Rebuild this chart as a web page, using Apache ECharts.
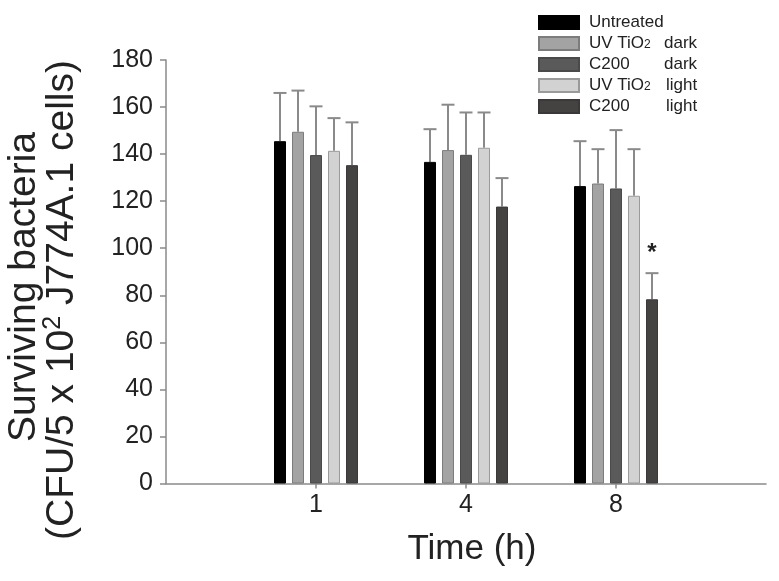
<!DOCTYPE html>
<html>
<head>
<meta charset="utf-8">
<script src="https://cdn.jsdelivr.net/npm/echarts@6/dist/echarts.min.js"></script>
<style>
html,body{margin:0;padding:0;background:#fff;}
#chart{width:779px;height:581px;}
</style>
</head>
<body>
<div id="chart"></div>
<script>
// ---- data ----
var categories = ['1', '4', '8'];
var seriesNames = ['Untreated', 'UV TiO2 dark', 'C200 dark', 'UV TiO2 light', 'C200 light'];
var untreated = [145.5, 136.7, 126.4];
var uvTiO2Dark = [149.5, 141.7, 127.5];
var c200Dark = [139.6, 139.7, 125.4];
var uvTiO2Light = [141.4, 142.7, 122.3];
var c200Light = [135.3, 117.7, 78.3];
var untreatedErr = [20.5, 13.9, 19.1];
var uvTiO2DarkErr = [17.5, 19.3, 14.6];
var c200DarkErr = [20.7, 18.0, 24.8];
var uvTiO2LightErr = [13.9, 15.0, 19.8];
var c200LightErr = [18.2, 12.1, 11.1];
var significance = ['', '', '*']; // for C200 light
var yTicks = [0, 20, 40, 60, 80, 100, 120, 140, 160, 180];

// ---- build ----
var values = [untreated, uvTiO2Dark, c200Dark, uvTiO2Light, c200Light];
var errors = [untreatedErr, uvTiO2DarkErr, c200DarkErr, uvTiO2LightErr, c200LightErr];
var fills = ['#000000', '#a3a3a3', '#5a5a5a', '#d2d2d2', '#454242'];
var borders = ['#000000', '#7c7c7c', '#4a4a4a', '#9a9a9a', '#3a3838'];
var xCats = [''].concat(categories).concat(['']);
var BAR_W = 12, GAP = 6;
var FONT = 'Liberation Sans, Arial, Helvetica, sans-serif';

function pad(arr) { return [null].concat(arr).concat([null]); }

var series = [];
values.forEach(function (vals, i) {
  series.push({
    name: seriesNames[i],
    type: 'bar',
    data: pad(vals),
    barWidth: BAR_W,
    barGap: (GAP / BAR_W * 100) + '%',
    itemStyle: { color: fills[i], borderColor: borders[i], borderWidth: 1 },
    emphasis: { disabled: true },
    z: 2
  });
});

// error bars (upward only) + significance marks
var errData = [];
values.forEach(function (vals, i) {
  vals.forEach(function (v, j) {
    errData.push([j + 1, v, v + errors[i][j], i, i === 4 ? significance[j] : '']);
  });
});
series.push({
  type: 'custom',
  name: 'err',
  data: errData,
  z: 1,
  silent: true,
  renderItem: function (params, api) {
    var ci = api.value(0), v = api.value(1), top = api.value(2), si = api.value(3);
    var mark = errData[params.dataIndex][4];
    var n = values.length;
    var off = (si - (n - 1) / 2) * (BAR_W + GAP);
    var p0 = api.coord([ci, v]);
    var p1 = api.coord([ci, top]);
    var x = p0[0] + off;
    var st = { stroke: '#8a8a8a', lineWidth: 2 };
    var children = [
      { type: 'line', shape: { x1: x, y1: p0[1], x2: x, y2: p1[1] }, style: st },
      { type: 'line', shape: { x1: x - 6.5, y1: p1[1], x2: x + 6.5, y2: p1[1] }, style: st }
    ];
    if (mark) {
      children.push({ type: 'text', style: { text: mark, x: x, y: p1[1] - 8, textAlign: 'center', textVerticalAlign: 'bottom', font: 'bold 24px ' + FONT, fill: '#222' } });
    }
    return { type: 'group', children: children };
  }
});

var legendFmt = {
  'Untreated': '{w|Untreated}',
  'UV TiO2 dark': '{u|UV TiO}{s|2}{d|dark}',
  'C200 dark': '{w|C200}{d|dark}',
  'UV TiO2 light': '{u|UV TiO}{s|2}{l|light}',
  'C200 light': '{w|C200}{l|light}'
};

var chart = echarts.init(document.getElementById('chart'), null, { renderer: 'canvas' });
chart.setOption({
  animation: false,
  backgroundColor: '#ffffff',
  grid: { left: 166, right: 13, top: 60, bottom: 97.5, containLabel: false },
  legend: {
    data: seriesNames,
    orient: 'vertical',
    left: 538,
    top: 14,
    padding: 0,
    itemWidth: 40,
    itemHeight: 13,
    itemGap: 4,
    icon: 'rect',
    selectedMode: false,
    formatter: function (name) { return legendFmt[name]; },
    textStyle: {
      fontFamily: FONT,
      fontSize: 17,
      color: '#222',
      padding: [0, 0, 0, 5],
      rich: {
        w: { fontSize: 17, width: 75, lineHeight: 14, fontFamily: FONT, color: '#222' },
        u: { fontSize: 17, width: 55, lineHeight: 14, fontFamily: FONT, color: '#222' },
        s: { fontSize: 12, width: 20, lineHeight: 14, verticalAlign: 'bottom', fontFamily: FONT, color: '#222' },
        d: { fontSize: 17, lineHeight: 14, fontFamily: FONT, color: '#222' },
        l: { fontSize: 17, lineHeight: 14, fontFamily: FONT, color: '#222', padding: [0, 0, 0, 2] }
      }
    }
  },
  xAxis: {
    type: 'category',
    data: xCats,
    boundaryGap: false,
    axisLine: { lineStyle: { color: '#8a8a8a', width: 1.5 } },
    axisTick: { show: true, length: 5, interval: function (idx, val) { return val !== ''; }, lineStyle: { color: '#8a8a8a', width: 1.5 } },
    axisLabel: { fontFamily: FONT, fontSize: 25, color: '#222', margin: 9, interval: 0 },
    splitLine: { show: false }
  },
  yAxis: {
    type: 'value',
    min: yTicks[0],
    max: yTicks[yTicks.length - 1],
    interval: yTicks[1] - yTicks[0],
    axisLine: { show: true, lineStyle: { color: '#8a8a8a', width: 1.5 } },
    axisTick: { show: true, length: 6, lineStyle: { color: '#8a8a8a', width: 1.5 } },
    axisLabel: { fontFamily: FONT, fontSize: 25, color: '#222', margin: 13 },
    splitLine: { show: false }
  },
  graphic: [
    { type: 'text', x: 24, y: 287, rotation: Math.PI / 2, style: { text: 'Surviving bacteria', font: '39px ' + FONT, fill: '#222', textAlign: 'center', textVerticalAlign: 'middle' } },
    { type: 'text', x: 62, y: 300, rotation: Math.PI / 2, style: {
        text: '{a|(CFU/5 x 10}{b|2}{a| J774A.1 cells)}',
        rich: {
          a: { fontSize: 39, fontFamily: FONT, fill: '#222', lineHeight: 42 },
          b: { fontSize: 25, fontFamily: FONT, fill: '#222', lineHeight: 42, verticalAlign: 'top' }
        },
        textAlign: 'center', textVerticalAlign: 'middle' } },
    { type: 'text', x: 472, y: 549, style: { text: 'Time (h)', font: '35px ' + FONT, fill: '#222', textAlign: 'center', textVerticalAlign: 'middle' } }
  ],
  series: series
});
</script>
</body>
</html>
